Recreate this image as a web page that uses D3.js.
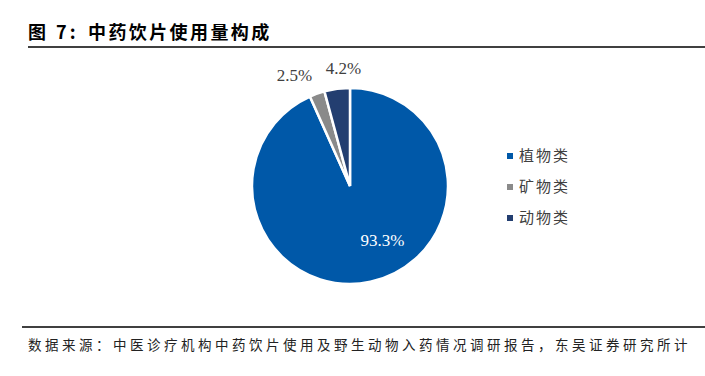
<!DOCTYPE html>
<html lang="zh">
<head>
<meta charset="UTF-8">
<title>中药饮片使用量构成</title>
<script src="https://d3js.org/d3.v7.min.js"></script>
<style>
    body { margin: 0; padding: 0; background: #fff; }
    svg { display: block; }
</style>
</head>
<body>
<div id="chart"></div>
<script>
    // data
    var categories = ["植物类", "矿物类", "动物类"];
    var shares = [93.3, 2.5, 4.2];
    var colors = ["#0058a8", "#8a8a8a", "#233e70"];

    var width = 705, height = 376;
    var cjk = "'Noto Sans CJK SC', sans-serif";

    var svg = d3.select("#chart").append("svg")
        .attr("width", width)
        .attr("height", height);

    // title + rule
    var title = svg.append("text")
        .attr("y", 39)
        .style("font-family", cjk)
        .style("font-weight", "bold")
        .style("font-size", "18px")
        .style("fill", "#000");
    title.append("tspan").attr("x", 28).style("letter-spacing", "3px").text("图 7:");
    title.append("tspan").attr("x", 88).style("letter-spacing", "2.4px").text("中药饮片使用量构成");

    svg.append("line")
        .attr("x1", 28).attr("x2", width)
        .attr("y1", 47).attr("y2", 47)
        .style("stroke", "#000")
        .style("stroke-width", 1.3);

    // pie
    var cx = 350, cy = 186, r = 98;

    var pie = d3.pie().sort(null).value(d => d)(shares);
    var arc = d3.arc().innerRadius(0).outerRadius(r);

    var g = svg.append("g").attr("transform", "translate(" + cx + "," + cy + ")");

    g.selectAll("path")
        .data(pie)
        .enter()
        .append("path")
        .attr("d", arc)
        .attr("fill", (d, i) => colors[i])
        .style("stroke", "#fff")
        .style("stroke-width", 2.5);

    // labels: big slice inside, small ones just outside
    var outer = d3.arc().innerRadius(118).outerRadius(118);

    g.selectAll("text.lbl")
        .data(pie)
        .enter()
        .append("text")
        .attr("class", "lbl")
        .attr("transform", function(d, i) {
            var p;
            if (i === 0) {
                // nudge toward lower-right like the original
                var a = (d.startAngle + d.endAngle) / 2 - 0.33;
                p = [Math.sin(a) * 63, -Math.cos(a) * 63];
            } else {
                p = outer.centroid(d);
                if (i === 1) { p[0] -= 16; p[1] += 0; }
                if (i === 2) { p[0] += 9; p[1] -= 1; }
            }
            return "translate(" + p[0] + "," + p[1] + ")";
        })
        .attr("text-anchor", "middle")
        .attr("dy", "0.35em")
        .style("font-family", "'Liberation Serif', serif")
        .style("font-size", "17px")
        .style("fill", (d, i) => i === 0 ? "#fff" : "#404040")
        .text(d => d.data.toFixed(1) + "%");

    // legend
    var legend = svg.append("g").attr("transform", "translate(507, 156)");

    var items = legend.selectAll(".legend-item")
        .data(categories)
        .enter()
        .append("g")
        .attr("class", "legend-item")
        .attr("transform", (d, i) => "translate(0," + i * 31 + ")");

    items.append("rect")
        .attr("x", 0).attr("y", -3)
        .attr("width", 6).attr("height", 6)
        .attr("fill", (d, i) => colors[i]);

    items.append("text")
        .attr("x", 12)
        .attr("dy", "0.36em")
        .style("font-family", cjk)
        .style("font-size", "15px")
        .style("letter-spacing", "2px")
        .style("fill", "#404040")
        .text(d => d);

    // bottom rule + source
    svg.append("line")
        .attr("x1", 22).attr("x2", width)
        .attr("y1", 327).attr("y2", 327)
        .style("stroke", "#000")
        .style("stroke-width", 1.3);

    svg.append("text")
        .attr("x", 28)
        .attr("y", 350)
        .style("font-family", cjk)
        .style("font-size", "13.5px")
        .style("letter-spacing", "3.5px")
        .style("fill", "#222")
        .text("数据来源：中医诊疗机构中药饮片使用及野生动物入药情况调研报告，东吴证券研究所计");
</script>
</body>
</html>
